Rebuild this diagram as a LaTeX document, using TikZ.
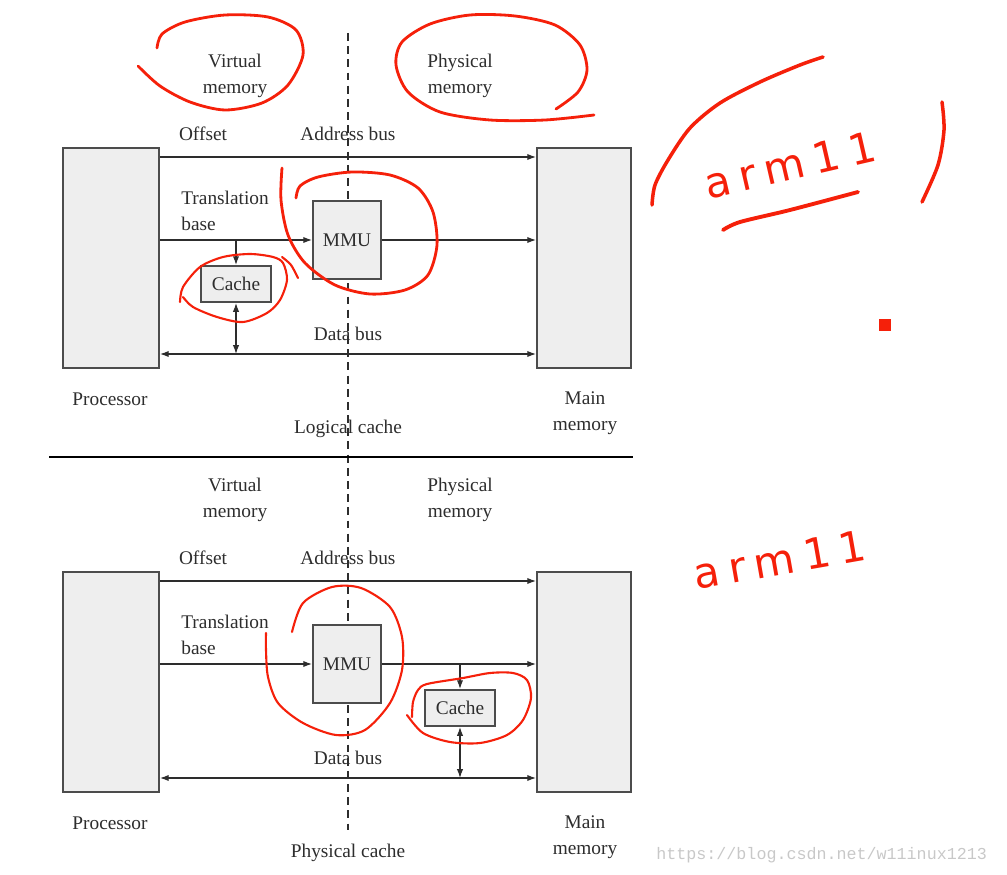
\documentclass[tikz,border=0pt]{standalone}
\usepackage{fontspec}
\setmainfont{Liberation Serif}
\setsansfont{DejaVu Sans}
\setmonofont{Liberation Mono}
\usetikzlibrary{arrows.meta,positioning}
\definecolor{tkInk}{RGB}{45,45,45}
\definecolor{tkBox}{RGB}{238,238,238}
\definecolor{tkPen}{RGB}{245,32,10}
\definecolor{tkMark}{RGB}{200,200,200}

\begin{document}
\begin{tikzpicture}[x=0.02cm, y=-0.02cm, font=\fontsize{11}{15}\selectfont,
  unit/.style={draw=black!70, line width=1.1pt, fill=tkBox, inner sep=0pt, text=tkInk},
  bus/.style={draw=tkInk, line width=0.7pt},
  lbl/.style={align=center, text=tkInk, inner sep=0pt},
  pen/.style={draw=tkPen, line width=1.6pt, line cap=round, line join=round},
  scrawl/.style={text=tkPen, inner sep=0pt, font=\sffamily\fontsize{24}{24}\selectfont\addfontfeature{LetterSpace=22}},
  >={Latex[length=5pt,width=3.6pt]}]
\useasboundingbox (0,0) rectangle (1007,875);
% virtual / physical divide
\draw[tkInk, line width=0.6pt, dash pattern=on 4.5pt off 3pt] (348,33) -- (348,830);
\draw[black, line width=1.6pt] (49,457) -- (633,457);
% both organisations, cache before or after the MMU
\foreach \p/\dy/\cx/\title in {A/0/236/Logical cache, B/424/460/Physical cache}{
  \begin{scope}[shift={(0,\dy)}]
    \node[unit, minimum width=1.92cm, minimum height=4.4cm] (proc\p) at (111,258) {};
    \node[unit, minimum width=1.88cm, minimum height=4.4cm] (mem\p) at (584,258) {};
    \node[unit, minimum width=1.36cm, minimum height=1.56cm] (mmu\p) at (347,240) {MMU};
    \node[unit, minimum width=1.4cm, minimum height=0.72cm] (cache\p) at (\cx,284) {Cache};
    \coordinate (off\p) at (0,157);
    \coordinate (data\p) at (0,354);
    \draw[bus,->] (proc\p.east |- off\p) -- (mem\p.west |- off\p);
    \draw[bus,->] (proc\p.east |- mmu\p.west) -- (mmu\p.west);
    \draw[bus,->] (mmu\p.east) -- (mem\p.west |- mmu\p.east);
    \draw[bus,<->] (proc\p.east |- data\p) -- (mem\p.west |- data\p);
    \draw[bus,->] (cache\p.north |- mmu\p.west) -- (cache\p.north);
    \draw[bus,<->] (cache\p.south) -- (cache\p.south |- data\p);
    \node[lbl] (virt\p) at (235,76) {Virtual\\memory};
    \node[lbl] (phys\p) at (460,76) {Physical\\memory};
    \node[lbl] (offlbl\p) at (203,134) {Offset};
    \node[lbl] (addr\p) at (348,134) {Address bus};
    \node[lbl, align=left, anchor=west] (trans\p) at (181,211) {Translation\\base};
    \node[lbl] (datalbl\p) at (348,334) {Data bus};
    \node[lbl] (proclbl\p) at (110,399) {Processor};
    \node[lbl] (memlbl\p) at (585,413) {Main\\memory};
    \node[lbl] (title\p) at (348,429) {\title};
  \end{scope}
}
% red pen marks
\draw[pen] plot[smooth] coordinates {(138,66) (160,86) (190,102) (225,110) (262,103) (288,85) (303,55) (296,30) (268,17) (225,15) (185,22) (162,34) (157,48)};
\draw[pen] plot[smooth] coordinates {(556,109) (578,92) (587,70) (580,45) (555,25) (515,16) (470,15) (430,24) (402,42) (396,65) (408,92) (440,112) (490,120) (545,120) (594,115)};
\draw[pen] plot[smooth] coordinates {(282,168) (281,200) (288,235) (305,263) (335,285) (370,294) (405,290) (428,275) (437,245) (433,212) (418,188) (390,175) (352,172) (318,177) (300,186) (296,198)};
\draw[pen, line width=1.2pt] plot[smooth] coordinates {(180,302) (183,287) (200,267) (223,257) (250,254) (273,257) (283,263) (287,280) (280,300) (267,313) (243,322) (217,317) (193,307) (183,297)};
\draw[pen, line width=1.2pt] plot[smooth] coordinates {(282,257) (291,265) (298,278)};
\draw[pen, line width=1.2pt] plot[smooth] coordinates {(292,632) (303,603) (332,587) (361,588) (390,607) (402,637) (402,670) (390,703) (365,730) (336,735) (303,723) (278,703) (268,677) (266,650) (266,633)};
\draw[pen, line width=1.2pt] plot[smooth] coordinates {(412,717) (413,702) (418,690) (427,684) (463,678) (490,673) (513,673) (527,680) (531,698) (523,720) (507,735) (480,743) (450,742) (423,733) (407,715)};
\draw[pen, line width=2pt] plot[smooth] coordinates {(652,205) (655,185) (668,160) (690,128) (720,103) (760,82) (800,65) (823,57)};
\draw[pen, line width=2pt] plot[smooth] coordinates {(942,102) (944,130) (938,165) (922,202)};
\draw[pen, line width=2.2pt] plot[smooth] coordinates {(723,230) (740,222) (790,210) (858,192)};
\node[scrawl, rotate=13] (armTop) at (790,165) {arm11};
\node[scrawl, rotate=10] (armBot) at (780,560) {arm11};
\fill[tkPen] (879,319) rectangle (891,331);
% blog watermark
\node[anchor=west, inner sep=0pt, text=tkMark, font=\ttfamily\fontsize{9.5}{10}\selectfont] (wmark) at (656,855) {https://blog.csdn.net/w11inux1213};
\end{tikzpicture}
\end{document}
